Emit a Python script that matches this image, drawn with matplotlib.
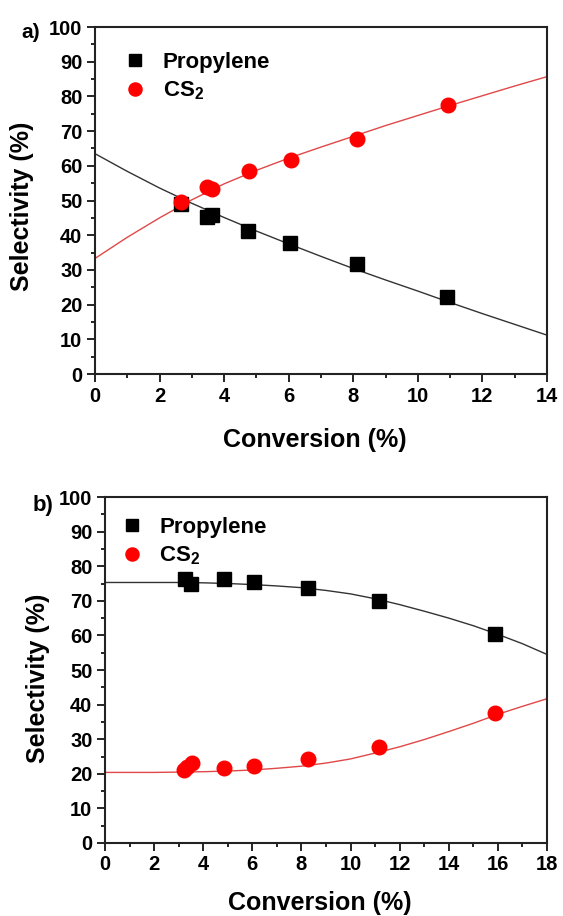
import numpy as np
import matplotlib.pyplot as plt
from matplotlib.ticker import MultipleLocator

plt.rcParams['font.family'] = ['Liberation Sans', 'DejaVu Sans']
plt.rcParams['font.weight'] = 'bold'
plt.rcParams['mathtext.fontset'] = 'custom'
plt.rcParams['mathtext.rm'] = 'Liberation Sans:bold'
plt.rcParams['mathtext.it'] = 'Liberation Sans:bold'
plt.rcParams['mathtext.bf'] = 'Liberation Sans:bold'

# panel a) data
a_conv_prop = [2.65, 3.46, 3.62, 4.74, 6.05, 8.1, 10.9]
a_sel_prop = [49.0, 45.3, 45.8, 41.2, 37.8, 31.7, 22.1]
a_conv_cs2 = [2.65, 3.46, 3.62, 4.76, 6.07, 8.1, 10.92]
a_sel_cs2 = [49.5, 54.0, 53.4, 58.4, 61.8, 67.8, 77.6]
# fitted curves
a_fit_x = [0, 1, 2, 3, 4, 5, 6, 7, 8, 9, 10, 11, 12, 13, 14]
a_fit_prop = [63.5, 58.4, 53.6, 49.2, 45.1, 41.2, 37.5, 33.9, 30.4, 27.1, 23.9, 20.6, 17.4, 14.3, 11.2]
a_fit_cs2 = [33.3, 39.4, 45.0, 50.2, 54.8, 58.7, 62.2, 65.4, 68.5, 71.6, 74.5, 77.4, 80.2, 83.0, 85.7]

# panel b) data
b_conv_prop = [3.26, 3.5, 4.83, 6.05, 8.28, 11.14, 15.88]
b_sel_prop = [76.3, 74.8, 76.3, 75.5, 73.8, 70.0, 60.3]
b_conv_cs2 = [3.22, 3.35, 3.54, 4.83, 6.05, 8.28, 11.14, 15.88]
b_sel_cs2 = [21.1, 22.1, 23.0, 21.6, 22.3, 24.2, 27.7, 37.5]
b_fit_x = [0, 1, 2, 3, 4, 5, 6, 7, 8, 9, 10, 11, 12, 13, 14, 15, 16, 17, 18]
b_fit_prop = [75.3, 75.3, 75.3, 75.3, 75.2, 75.0, 74.7, 74.3, 73.8, 73.0, 72.0,
              70.6, 68.9, 67.0, 65.0, 62.8, 60.3, 57.6, 54.5]
b_fit_cs2 = [20.4, 20.4, 20.4, 20.5, 20.6, 20.8, 21.1, 21.6, 22.2, 23.1, 24.3,
             26.0, 27.8, 29.9, 32.2, 34.6, 37.2, 39.5, 41.7]

fig = plt.figure(figsize=(5.63, 9.16), dpi=100)
ax1 = fig.add_axes([0.1687, 0.5917, 0.8029, 0.3788])
ax2 = fig.add_axes([0.1865, 0.0797, 0.7851, 0.3777])


def style(ax, xmax, xlab_y, ylab_x, ylab_y):
    ax.set_xlim(0, xmax)
    ax.set_ylim(0, 100)
    ax.xaxis.set_major_locator(MultipleLocator(2))
    ax.xaxis.set_minor_locator(MultipleLocator(1))
    ax.yaxis.set_major_locator(MultipleLocator(10))
    ax.yaxis.set_minor_locator(MultipleLocator(5))
    ax.tick_params(which='both', direction='out', top=False, right=False,
                   width=1.2, labelsize=14.5, pad=3)
    ax.tick_params(which='major', length=6)
    ax.tick_params(which='minor', length=3.2)
    for s in ax.spines.values():
        s.set_linewidth(1.5)
        s.set_color('#222222')
    ax.set_xlabel('Conversion (%)', fontsize=18, fontweight='bold', va='center')
    ax.set_ylabel('Selectivity (%)', fontsize=18, fontweight='bold', va='center')
    ax.xaxis.set_label_coords(0.487, xlab_y)
    ax.yaxis.set_label_coords(ylab_x, ylab_y)


def draw(ax, fx, fp, fc, xp, yp, xc, yc):
    ax.plot(fx, fp, color='#333333', lw=1.0, zorder=2)
    ax.plot(fx, fc, color='#e04848', lw=1.0, zorder=2)
    ax.plot(xp, yp, 's', color='black', ms=9.5, ls='none', label='Propylene', zorder=3)
    ax.plot(xc, yc, 'o', color='#ff0000', ms=10.5, ls='none', label='CS$_2$', zorder=3)


draw(ax1, a_fit_x, a_fit_prop, a_fit_cs2, a_conv_prop, a_sel_prop, a_conv_cs2, a_sel_cs2)
style(ax1, 14, -0.190, -0.162, 0.483)
ax1.legend(loc='upper left', bbox_to_anchor=(0.02, 0.985), frameon=False,
           handlelength=1.0, handletextpad=0.75, labelspacing=0.3, markerscale=0.9,
           prop={'weight': 'bold', 'size': 16})

draw(ax2, b_fit_x, b_fit_prop, b_fit_cs2, b_conv_prop, b_sel_prop, b_conv_cs2, b_sel_cs2)
style(ax2, 18, -0.173, -0.152, 0.477)
ax2.legend(loc='upper left', bbox_to_anchor=(-0.01, 1.0), frameon=False,
           handlelength=1.0, handletextpad=0.75, labelspacing=0.3, markerscale=0.9,
           prop={'weight': 'bold', 'size': 16})

fig.text(21 / 563, 1 - 33 / 916, 'a)', fontsize=15, fontweight='bold', va='center')
fig.text(33 / 563, 1 - 506 / 916, 'b)', fontsize=16, fontweight='bold', va='center')

fig.savefig('out.png', dpi=100)
